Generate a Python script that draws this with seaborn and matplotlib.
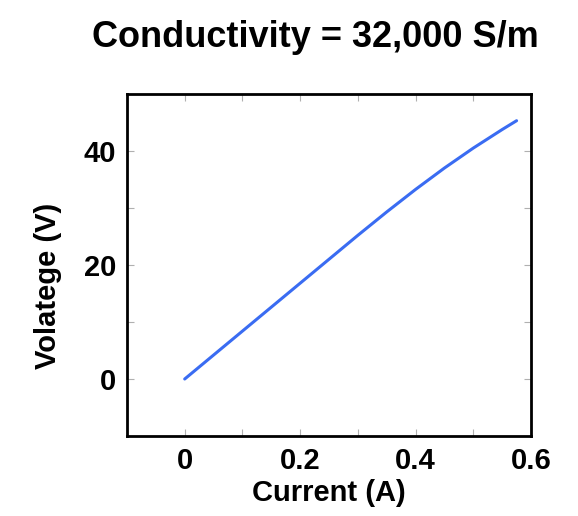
import matplotlib
matplotlib.use("Agg")
import matplotlib.pyplot as plt
import seaborn as sns
import pandas as pd
from matplotlib.ticker import MultipleLocator

# Current vs voltage readings
current = [0, 0.05, 0.1, 0.15, 0.2, 0.25, 0.3, 0.35, 0.4, 0.45, 0.5, 0.55, 0.575]
voltage = [0, 4.2, 8.4, 12.6, 16.8, 21.0, 25.2, 29.3, 33.25, 37.0, 40.5, 43.75, 45.3]

x_ticks = [0, 0.2, 0.4, 0.6]
x_tick_labels = ["0", "0.2", "0.4", "0.6"]
y_ticks = [0, 20, 40]
y_tick_labels = ["0", "20", "40"]

df = pd.DataFrame({"Current (A)": current, "Volatege (V)": voltage})

sns.set_style("white")
plt.rcParams["font.family"] = ["Liberation Sans", "DejaVu Sans"]
plt.rcParams["font.weight"] = "bold"
plt.rcParams["text.color"] = "black"
plt.rcParams["axes.labelcolor"] = "black"
plt.rcParams["xtick.labelcolor"] = "black"
plt.rcParams["ytick.labelcolor"] = "black"

fig = plt.figure(figsize=(5.78, 5.16), dpi=100)
ax = fig.add_axes([0.2197, 0.155, 0.699, 0.663])

sns.lineplot(data=df, x="Current (A)", y="Volatege (V)", ax=ax,
             color="#3a6cf2", linewidth=2.2)

ax.set_xlim(-0.1, 0.6)
ax.set_ylim(-10, 50)

ax.set_xticks(x_ticks)
ax.set_xticklabels(x_tick_labels)
ax.set_yticks(y_ticks)
ax.set_yticklabels(y_tick_labels)
ax.xaxis.set_minor_locator(MultipleLocator(0.1))
ax.yaxis.set_minor_locator(MultipleLocator(10))

for which in ["major", "minor"]:
    ax.tick_params(axis="both", which=which, direction="in", length=5, width=0.8,
                   color="#b0b0b0", top=True, right=True, bottom=True, left=True)
ax.tick_params(axis="both", which="major", labelsize=21, pad=8, labelcolor="black")

for s in ax.spines.values():
    s.set_color("black")
    s.set_linewidth(2.0)

ax.set_xlabel("Current (A)", fontsize=21, fontweight="bold", color="black")
ax.set_ylabel("Volatege (V)", fontsize=21, fontweight="bold", color="black")
ax.xaxis.set_label_coords(0.5, -0.125)
ax.yaxis.set_label_coords(-0.16, 0.44)

fig.text(0.546, 0.928, "Conductivity = 32,000 S/m", ha="center", va="center",
         fontsize=26, fontweight="bold", color="black")

fig.savefig("out.png", dpi=100)
